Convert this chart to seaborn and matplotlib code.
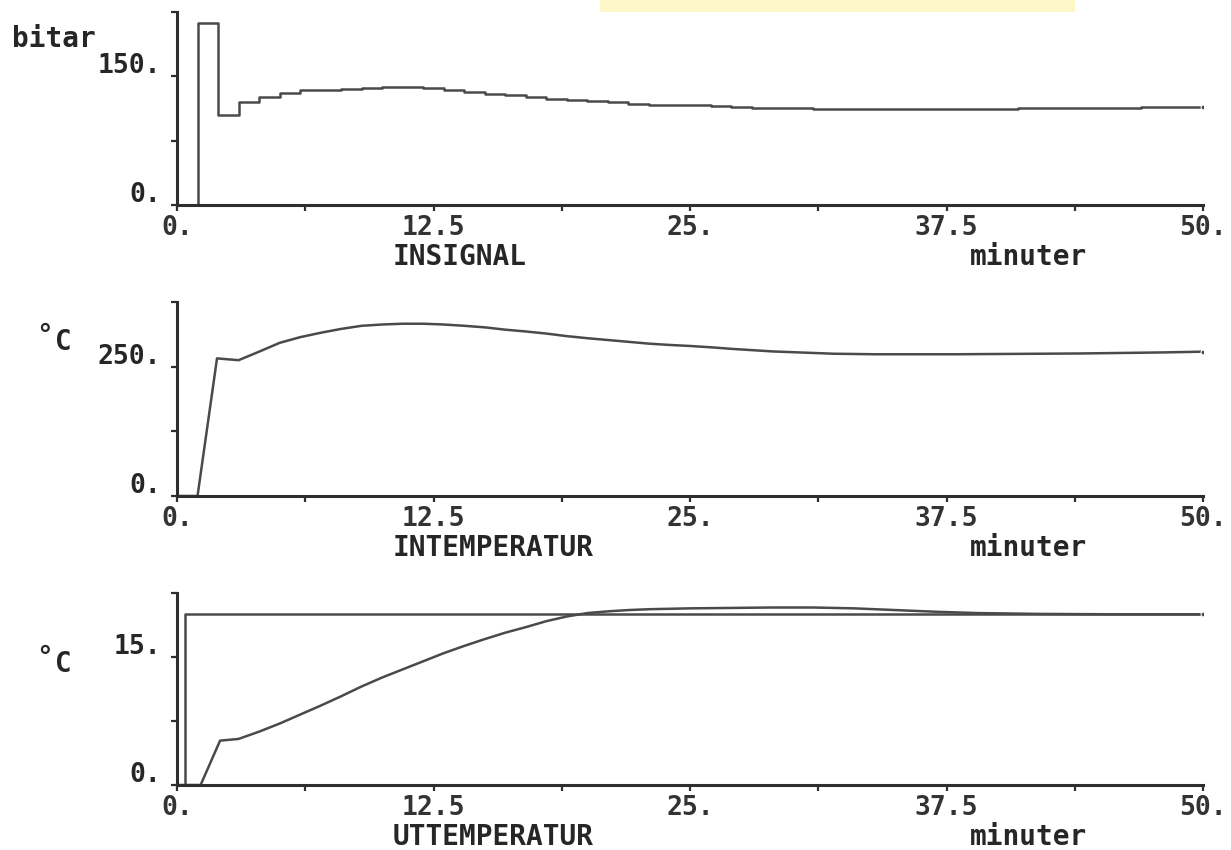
import matplotlib
matplotlib.use("Agg")
import matplotlib.pyplot as plt
import matplotlib.transforms as mtransforms
from matplotlib.patches import Rectangle
import pandas as pd
import seaborn as sns

# ---- data -------------------------------------------------------------
# control signal (bitar), held for one minute per sample
insignal_t = list(range(0, 51))
insignal_v = [0, 212, 105.5, 120.5, 126, 130.5, 133.5, 134.5, 135.5, 136.5,
              137, 137, 136, 134, 131.5, 129.7, 128, 125.5, 124, 122.5,
              121, 119.5, 118, 117, 116.5, 116, 115, 114, 113.5, 113,
              113, 112.5, 112.5, 112.5, 112.5, 112.5, 112.5, 112.5, 112.5, 112.5,
              112.5, 113, 113, 113, 113, 113, 113, 114, 114, 114, 114]

# inlet temperature (°C)
intemp_t = [0, 1, 1.95, 3, 4, 5, 6, 7, 8, 9, 10, 11, 12, 13, 14, 15, 16, 17,
            18, 19, 20, 21, 22, 23, 24, 25, 26, 27, 28, 29, 30, 32, 34, 36,
            38, 40, 42, 44, 46, 48, 50]
intemp_v = [0, 0, 266, 262.5, 279, 296, 307, 315.5, 323, 329, 331.5, 333,
            333, 331.5, 329, 326, 321.5, 318, 314, 309, 305, 301.5, 298,
            294.5, 292, 290, 287.5, 284.5, 282, 279.5, 278, 275, 274, 274,
            274, 274.5, 275, 275.5, 276.5, 277.5, 279]

# outlet temperature (°C) and its reference value
uttemp_t = [0, 1.15, 2.1, 3, 4, 5, 6, 7, 8, 9, 10, 11, 12, 13, 14, 15, 16,
            17, 18, 19, 20, 21, 22, 23, 24, 25, 27, 29, 31, 33, 35, 37, 39,
            42, 46, 50]
uttemp_v = [0, 0, 5.2, 5.4, 6.25, 7.2, 8.25, 9.3, 10.4, 11.55, 12.6, 13.55,
            14.5, 15.45, 16.3, 17.1, 17.85, 18.5, 19.2, 19.75, 20.15, 20.35,
            20.5, 20.6, 20.65, 20.7, 20.75, 20.8, 20.8, 20.7, 20.5, 20.3,
            20.15, 20.05, 20.0, 20.0]
ref_t = [0, 0.4, 0.4, 50]
ref_v = [0, 0, 20, 20]

x_ticks = [0, 12.5, 25, 37.5, 50]
x_ticklabels = ["0.", "12.5", "25.", "37.5", "50."]
x_minor = [6.25, 18.75, 31.25, 43.75]

panels = [
    dict(title="INSIGNAL", unit="bitar", ymax=225,
         yticks=[0, 75, 150, 225], ylabels=["0.", "", "150.", ""]),
    dict(title="INTEMPERATUR", unit="°C", ymax=375,
         yticks=[0, 125, 250, 375], ylabels=["0.", "", "250.", ""]),
    dict(title="UTTEMPERATUR", unit="°C", ymax=22.5,
         yticks=[0, 7.5, 15, 22.5], ylabels=["0.", "", "15.", ""]),
]

# ---- style ------------------------------------------------------------
sns.set_style("white")
plt.rcParams["font.family"] = ["DejaVu Sans Mono", "DejaVu Sans"]
plt.rcParams["font.weight"] = "bold"

W, H = 1231, 850
fig = plt.figure(figsize=(W / 100, H / 100), dpi=100)
fig.patch.set_facecolor("white")

AX_COL = "#2e2e2e"
LINE_COL = "#4a4a4a"
TXT_COL = "#262626"

# axes boxes in pixel terms: (left, top, right, bottom)
boxes = [(177, 12, 1203, 205), (177, 302, 1203, 496), (177, 593, 1203, 785)]

def px_rect(l, t, r, b):
    return [l / W, 1 - b / H, (r - l) / W, (b - t) / H]

axes = [fig.add_axes(px_rect(*b)) for b in boxes]

# ---- curves -----------------------------------------------------------
df_in = pd.DataFrame({"t": insignal_t, "v": insignal_v})
sns.lineplot(data=df_in, x="t", y="v", ax=axes[0], sort=False, estimator=None,
             drawstyle="steps-post", color=LINE_COL, linewidth=1.8,
             marker="o", markersize=3.5, markevery=[len(df_in) - 1])

df_it = pd.DataFrame({"t": intemp_t, "v": intemp_v})
sns.lineplot(data=df_it, x="t", y="v", ax=axes[1], sort=False, estimator=None,
             color=LINE_COL, linewidth=1.8,
             marker="o", markersize=3.5, markevery=[len(df_it) - 1])

df_ref = pd.DataFrame({"t": ref_t, "v": ref_v})
sns.lineplot(data=df_ref, x="t", y="v", ax=axes[2], sort=False, estimator=None,
             color=LINE_COL, linewidth=1.8)
df_ut = pd.DataFrame({"t": uttemp_t, "v": uttemp_v})
sns.lineplot(data=df_ut, x="t", y="v", ax=axes[2], sort=False, estimator=None,
             color=LINE_COL, linewidth=1.8,
             marker="o", markersize=3.5, markevery=[len(df_ut) - 1])

# ---- axes decoration --------------------------------------------------
up = mtransforms.ScaledTranslation(0, 0.13, fig.dpi_scale_trans)
for ax, p, b in zip(axes, panels, boxes):
    ax.set_xlim(0, 50)
    ax.set_ylim(0, p["ymax"])
    ax.set_xlabel("")
    ax.set_ylabel("")
    for side in ("top", "right"):
        ax.spines[side].set_visible(False)
    for side in ("left", "bottom"):
        ax.spines[side].set_color(AX_COL)
        ax.spines[side].set_linewidth(2.2)
    ax.set_xticks(x_ticks)
    ax.set_xticklabels(x_ticklabels)
    ax.set_xticks(x_minor, minor=True)
    ax.set_yticks(p["yticks"])
    ax.set_yticklabels(p["ylabels"])
    ax.tick_params(axis="both", which="both", direction="out", length=4.5,
                   width=1.6, color=AX_COL, bottom=True, left=True)
    ax.tick_params(axis="x", which="major", labelsize=19, pad=3,
                   labelcolor="#333333")
    ax.tick_params(axis="y", which="major", labelsize=19, pad=7,
                   labelcolor=TXT_COL)
    for lab in ax.get_xticklabels() + ax.get_yticklabels():
        lab.set_fontweight("bold")
    for lab in ax.get_yticklabels():
        lab.set_transform(lab.get_transform() + up)
    ax.grid(False)

    # panel title and time unit under the x axis
    base = b[3] + 60
    fig.text(393 / W, 1 - base / H, p["title"], fontsize=20, fontweight="bold",
             color=TXT_COL, ha="left", va="baseline")
    fig.text(970 / W, 1 - base / H, "minuter", fontsize=20, fontweight="bold",
             color=TXT_COL, ha="left", va="baseline")

# y-axis units
fig.text(12 / W, 1 - 47 / H, "bitar", fontsize=20, fontweight="bold",
         color=TXT_COL, ha="left", va="baseline")
for cbase in (350, 672):
    fig.text(36 / W, 1 - (cbase - 6) / H, "°", fontsize=20, fontweight="bold",
             color=TXT_COL, ha="left", va="baseline")
    fig.text(55 / W, 1 - cbase / H, "C", fontsize=20, fontweight="bold",
             color=TXT_COL, ha="left", va="baseline")

# highlighter mark along the top edge of the sheet
fig.patches.append(Rectangle((600 / W, 1 - 12 / H), 475 / W, 12 / H,
                             transform=fig.transFigure, facecolor="#fdf4b8",
                             edgecolor="none", alpha=0.8, zorder=0))

fig.savefig("out.png", dpi=100, facecolor="white")
